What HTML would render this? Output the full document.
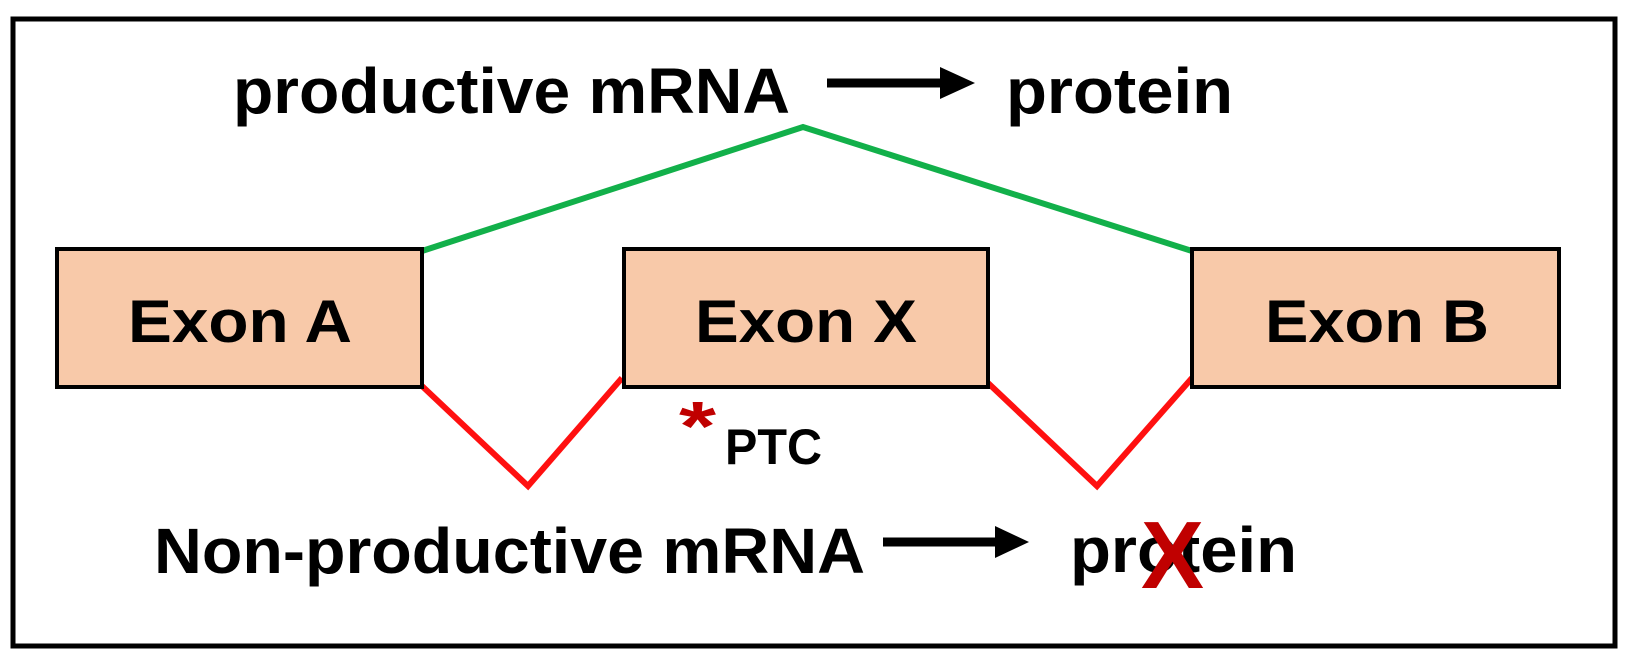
<!DOCTYPE html>
<html><head><meta charset="utf-8"><style>
html,body{margin:0;padding:0;background:#fff;}
svg{display:block;}
text{font-family:"Liberation Sans",sans-serif;font-weight:bold;fill:#000;}
</style></head><body>
<svg width="1638" height="669" viewBox="0 0 1638 669" xmlns="http://www.w3.org/2000/svg">
<rect x="13" y="19" width="1602" height="627" fill="#fff" stroke="#000" stroke-width="5"/>
<polyline points="422,251 803,127 1192,251" fill="none" stroke="#12b04a" stroke-width="6"/>
<polyline points="422,386 528,486 622,378" fill="none" stroke="#ff1010" stroke-width="6"/>
<polyline points="988,383 1097,486 1192,378" fill="none" stroke="#ff1010" stroke-width="6"/>
<rect x="57" y="249" width="365" height="138" fill="#f8c9a9" stroke="#000" stroke-width="4"/>
<rect x="624" y="249" width="364" height="138" fill="#f8c9a9" stroke="#000" stroke-width="4"/>
<rect x="1192" y="249" width="367" height="138" fill="#f8c9a9" stroke="#000" stroke-width="4"/>
<text x="128" y="342" font-size="60" textLength="224" lengthAdjust="spacingAndGlyphs">Exon A</text>
<text x="695" y="342" font-size="60" textLength="222" lengthAdjust="spacingAndGlyphs">Exon X</text>
<text x="1265" y="342" font-size="60" textLength="224" lengthAdjust="spacingAndGlyphs">Exon B</text>
<text x="233" y="113" font-size="64" textLength="557" lengthAdjust="spacingAndGlyphs">productive mRNA</text>
<line x1="827" y1="83" x2="945" y2="83" stroke="#000" stroke-width="9"/>
<polygon points="940,67 975,83 940,99" fill="#000"/>
<text x="1006" y="113" font-size="64" textLength="227" lengthAdjust="spacingAndGlyphs">protein</text>
<text x="679" y="450" font-size="70" style="fill:#c00000" textLength="37" lengthAdjust="spacingAndGlyphs">*</text>
<text x="725" y="464" font-size="50" textLength="97" lengthAdjust="spacingAndGlyphs">PTC</text>
<text x="154" y="573" font-size="64" textLength="711" lengthAdjust="spacingAndGlyphs">Non-productive mRNA</text>
<line x1="883" y1="542" x2="1000" y2="542" stroke="#000" stroke-width="9"/>
<polygon points="995,526 1029,542 995,558" fill="#000"/>
<text x="1070" y="572" font-size="64" textLength="227" lengthAdjust="spacingAndGlyphs">protein</text>
<text x="1141" y="588" font-size="96" style="fill:#c00000" textLength="63" lengthAdjust="spacingAndGlyphs">X</text>
</svg>
</body></html>
